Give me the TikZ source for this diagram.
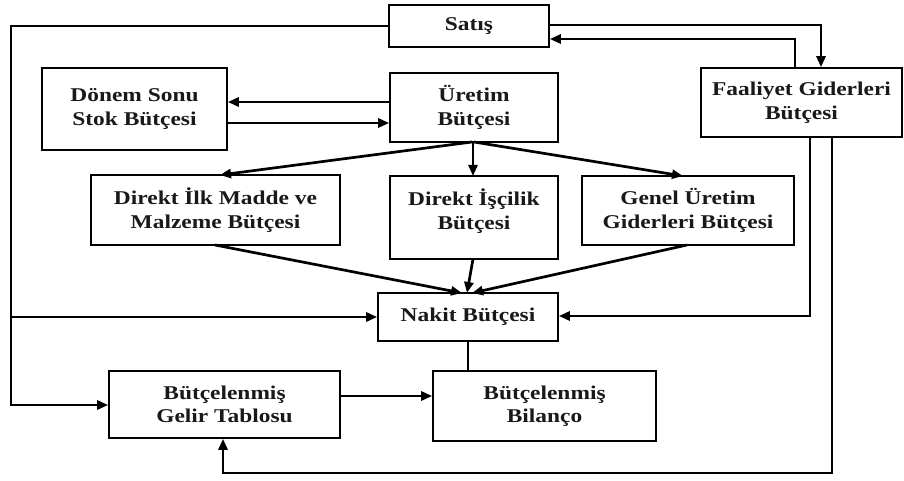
\documentclass[tikz,border=0pt]{standalone}
\usepackage{fontspec}
\newfontfamily\boxfont{Liberation Serif}[FakeStretch=1.2]
\usetikzlibrary{arrows.meta,calc}
\begin{document}
\begin{tikzpicture}[x=1pt,y=-1pt,
  box/.style={draw, line width=1.6pt, rectangle, inner sep=0pt, align=center,
    font=\boxfont\bfseries\fontsize{19.5}{23.5}\selectfont, text=black!90},
  txt/.style={inner sep=0pt, align=center, font=\boxfont\bfseries\fontsize{19.5}{23.5}\selectfont, text=black!90},
  conn/.style={line width=2.7pt, -{Triangle[length=11pt,width=9pt]}},
  plain/.style={line width=2.7pt}]
\useasboundingbox (0,0) rectangle (904,481);
\fill[white] (0,0) rectangle (904,481);
% boxes
\node[box, minimum width=160, minimum height=42] (sat) at (469,26) {Satış};
\node[box, minimum width=185, minimum height=82] (don) at (134.5,109) {Dönem Sonu\\Stok Bütçesi};
\node[box, minimum width=168, minimum height=69] (ure) at (474,107.5) {Üretim\\Bütçesi};
\node[box, minimum width=201, minimum height=69] (faa) at (801.5,102.5) {Faaliyet Giderleri\\Bütçesi};
\node[box, minimum width=249, minimum height=70] (dim) at (215.5,210) {Direkt İlk Madde ve\\Malzeme Bütçesi};
\node[box, minimum width=168, minimum height=83] (dis) at (474,217.5) {};
\node[txt] (dist) at (474,211) {Direkt İşçilik\\Bütçesi};
\node[box, minimum width=212, minimum height=69] (gen) at (688,210.5) {Genel Üretim\\Giderleri Bütçesi};
\node[box, minimum width=180, minimum height=48] (nak) at (468,317) {Nakit Bütçesi};
\node[box, minimum width=231, minimum height=67] (gel) at (224.5,404.5) {Bütçelenmiş\\Gelir Tablosu};
\node[box, minimum width=223, minimum height=70] (bil) at (544.5,406) {Bütçelenmiş\\Bilanço};
\coordinate (lt) at (11,26);
\coordinate (lb) at (11,405);
\coordinate (rb) at (832,473);
\coordinate (lbb) at (223,473);
% Satis loop left
\draw[conn] (sat.west) -- (lt) -- (lb) -- (gel.west |- lb);
\draw[conn] (11,317) -- (nak.west |- {0,317});
% Satis <-> Faaliyet
\draw[conn] (sat.east |- {0,25}) -- (821,25) -- (faa.north -| {821,0});
\draw[conn] (faa.north -| {795,0}) -- (795,39) -- (sat.east |- {0,39});
% Donem <-> Uretim
\draw[conn] (ure.west |- {0,102}) -- (don.east |- {0,102});
\draw[conn] (don.east |- {0,123}) -- (ure.west |- {0,123});
% Uretim to three
\draw[conn] (472,142) -- (220,175);
\draw[conn] (473,142) -- (473,176);
\draw[conn] (474,142) -- (683,176);
% three to Nakit
\draw[conn] (215,245) -- (462,293);
\draw[conn] (473,259) -- (467,293);
\draw[conn] (687,245) -- (472,293);
% Faaliyet to Nakit
\draw[conn] (faa.south -| {810,0}) -- (810,316) -- (nak.east |- {0,316});
% Faaliyet to Gelir
\draw[conn] (faa.south -| {832,0}) -- (rb) -- (lbb) -- (gel.south -| lbb);
% Gelir to Bilanco
\draw[conn] (gel.east |- {0,396}) -- (bil.west |- {0,396});
% Nakit to Bilanco
\draw[plain] (nak.south) -- (bil.north -| nak.south);
\end{tikzpicture}
\end{document}
